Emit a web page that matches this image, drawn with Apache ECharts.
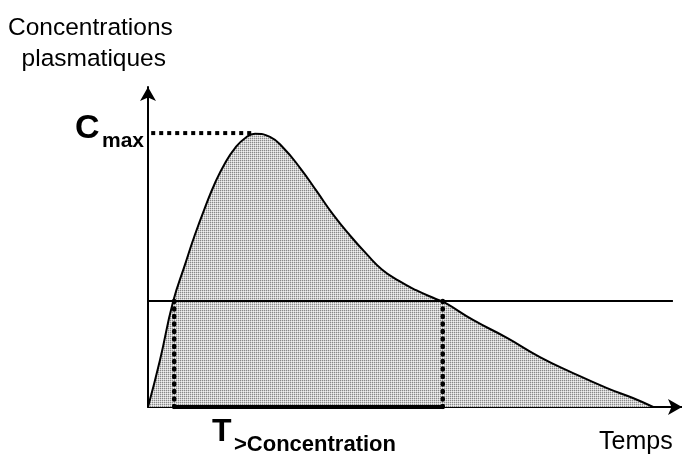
<!DOCTYPE html>
<html>
<head>
<meta charset="utf-8">
<script src="https://cdn.jsdelivr.net/npm/echarts@6/dist/echarts.min.js"></script>
<style>
  html, body { margin: 0; padding: 0; background: #fff; }
  #chart { width: 682px; height: 456px; }
</style>
</head>
<body>
<div id="chart"></div>
<script>
// curve of plasma concentration vs time (arbitrary units)
const timeVals = [0, 2.25, 4.68, 6.93, 8.8, 10.67, 12.55, 14.42, 16.3, 18.16, 20.04,
  22.85, 25.28, 28.46, 31.65, 34.64, 37.83, 41.0, 43.8, 47.0, 50.2, 53.9, 55.6,
  60.86, 67.23, 73.4, 79.6, 85.96, 90.8, 94.6]
const concVals = [0, 14.7, 32.8, 44.5, 53.9, 62.3, 70.0, 76.2, 80.9, 84.0, 85.4,
  84.4, 81.1, 74.75, 67.3, 60.2, 53.6, 47.7, 43.0, 39.4, 36.5, 33.75, 32.6,
  27.2, 21.6, 15.6, 10.6, 5.9, 2.8, 0]
const cmaxTime = 20.04
const cmaxVal = 85.6
const threshold = 33.1
const thresholdEnd = 98.3
const tStart = 4.9
const tEnd = 55.2

// dotted grey fill
let pat = document.createElement('canvas')
pat.width = 2
pat.height = 2
let ctx = pat.getContext('2d')
ctx.fillStyle = '#f0f0f0'
ctx.fillRect(0, 0, 2, 2)
ctx.fillStyle = '#cfcfcf'
ctx.fillRect(1, 0, 1, 1)
ctx.fillRect(0, 1, 1, 1)
ctx.fillStyle = '#888888'
ctx.fillRect(0, 0, 1, 1)

let curve = timeVals.map(function (t, i) { return [t, concVals[i]] })

let myChart = echarts.init(document.getElementById('chart'))
let option = {
  animation: false,
  grid: { left: 148, right: 0, top: 87, bottom: 49 },
  xAxis: {
    type: 'value',
    min: 0,
    max: 100,
    axisLine: { show: true, symbol: ['none', 'arrow'], symbolSize: [12, 14], lineStyle: { color: '#000', width: 2 } },
    axisTick: { show: false },
    axisLabel: { show: false },
    splitLine: { show: false }
  },
  yAxis: {
    type: 'value',
    min: 0,
    max: 100,
    axisLine: { show: true, symbol: ['none', 'arrow'], symbolSize: [12, 14], lineStyle: { color: '#000', width: 2 } },
    axisTick: { show: false },
    axisLabel: { show: false },
    splitLine: { show: false }
  },
  series: [
    {
      type: 'line',
      data: curve,
      smooth: 0.5,
      symbol: 'none',
      lineStyle: { color: '#000', width: 2 },
      areaStyle: { color: { image: pat, repeat: 'repeat' }, opacity: 1 },
      z: 2
    },
    {
      type: 'line',
      data: [[0, threshold], [thresholdEnd, threshold]],
      symbol: 'none',
      lineStyle: { color: '#000', width: 2 },
      z: 3
    },
    {
      type: 'line',
      data: [[0.6, cmaxVal], [cmaxTime, cmaxVal]],
      symbol: 'none',
      lineStyle: { color: '#000', width: 4, type: [4, 4] },
      z: 3
    },
    {
      type: 'line',
      data: [[tStart, 0], [tStart, threshold]],
      symbol: 'none',
      lineStyle: { color: '#000', width: 4.5, type: [1, 6.5], cap: 'round' },
      z: 3
    },
    {
      type: 'line',
      data: [[tEnd, 0], [tEnd, threshold]],
      symbol: 'none',
      lineStyle: { color: '#000', width: 4.5, type: [1, 6.5], cap: 'round' },
      z: 3
    },
    {
      type: 'line',
      data: [[tStart, 0], [tEnd, 0]],
      symbol: 'none',
      lineStyle: { color: '#000', width: 4 },
      z: 4
    }
  ],
  graphic: [
    {
      type: 'text', left: 8, top: 13,
      style: { text: 'Concentrations\n  plasmatiques', font: '24.5px "Liberation Sans", Arial', fill: '#000', lineHeight: 31 }
    },
    {
      type: 'text', left: 75, top: 112,
      style: { text: 'C', font: 'bold 34px "Liberation Sans", Arial', fill: '#000' }
    },
    {
      type: 'text', left: 102, top: 131,
      style: { text: 'max', font: 'bold 21px "Liberation Sans", Arial', fill: '#000' }
    },
    {
      type: 'text', left: 226, top: 230,
      style: { text: 'AUC', font: 'bold 31px "Liberation Sans", Arial', fill: '#000' }
    },
    {
      type: 'text', left: 212, top: 416,
      style: { text: 'T', font: 'bold 32px "Liberation Sans", Arial', fill: '#000' }
    },
    {
      type: 'text', left: 234, top: 434,
      style: { text: '>Concentration', font: 'bold 22px "Liberation Sans", Arial', fill: '#000' }
    },
    {
      type: 'text', left: 599, top: 430,
      style: { text: 'Temps', font: '25px "Liberation Sans", Arial', fill: '#000' }
    }
  ]
}
myChart.setOption(option)
window.addEventListener('resize', function () {
  myChart.resize()
})
</script>
</body>
</html>
